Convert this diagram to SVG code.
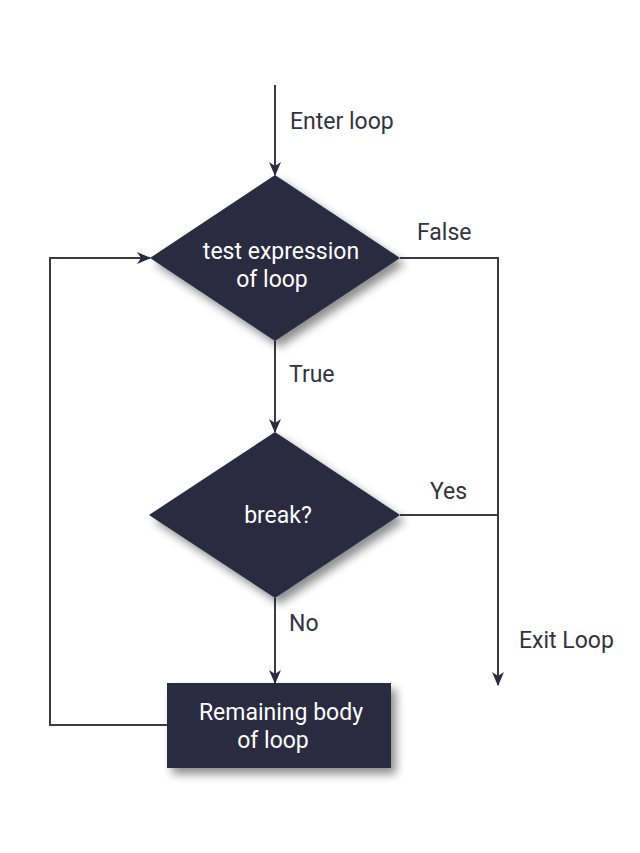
<svg xmlns="http://www.w3.org/2000/svg" width="640" height="853" viewBox="0 0 640 853">
<defs>
<style>
.shape{fill:#2b2a40;filter:url(#sh)}
.in{font-family:Roboto,"Liberation Sans",sans-serif;font-size:23px;fill:#ffffff;text-anchor:middle}
.lbl{font-family:Roboto,"Liberation Sans",sans-serif;font-size:23px;fill:#333340}
.conn{fill:none;stroke:#3a3a4c;stroke-width:2}
</style>
<filter id="sh" x="-20%" y="-20%" width="150%" height="150%">
<feGaussianBlur in="SourceAlpha" stdDeviation="5"/>
<feOffset dx="5" dy="6" result="b"/>
<feComponentTransfer><feFuncA type="linear" slope="0.45"/></feComponentTransfer>
<feMerge><feMergeNode/><feMergeNode in="SourceGraphic"/></feMerge>
</filter>
<marker id="ah" viewBox="0 0 14 12" refX="13" refY="6" markerWidth="14" markerHeight="12" markerUnits="userSpaceOnUse" orient="auto">
<path d="M0,0 L14,6 L0,12 L4,6 Z" fill="#2b2a40"/>
</marker>
</defs>
<rect width="640" height="853" fill="#ffffff"/>
<g id="connectors">
<line class="conn" x1="275" y1="85" x2="275" y2="175" marker-end="url(#ah)"/>
<line class="conn" x1="275" y1="341" x2="275" y2="432" marker-end="url(#ah)"/>
<line class="conn" x1="275" y1="598" x2="275" y2="683" marker-end="url(#ah)"/>
<polyline class="conn" points="400,258 498,258 498,685" marker-end="url(#ah)"/>
<line class="conn" x1="400" y1="515" x2="498" y2="515"/>
<polyline class="conn" points="167,725 50,725 50,258 150,258" marker-end="url(#ah)"/>
<text class="lbl" x="290" y="129">Enter loop</text>
<text class="lbl" x="417" y="240">False</text>
<text class="lbl" x="289" y="382">True</text>
<text class="lbl" x="430" y="499">Yes</text>
<text class="lbl" x="289" y="631">No</text>
<text class="lbl" x="519" y="648">Exit Loop</text>
</g>
<g id="test">
<polygon class="shape" points="275,175 400,258 275,341 150,258"/>
<text class="in" x="281" y="259">test expression</text>
<text class="in" x="272" y="287">of loop</text>
</g>
<g id="break">
<polygon class="shape" points="275,432 400,515 275,598 149,515"/>
<text class="in" x="278" y="523">break?</text>
</g>
<g id="body">
<rect class="shape" x="167" y="683" width="224" height="85"/>
<text class="in" x="281" y="720">Remaining body</text>
<text class="in" x="273" y="748">of loop</text>
</g>
</svg>
